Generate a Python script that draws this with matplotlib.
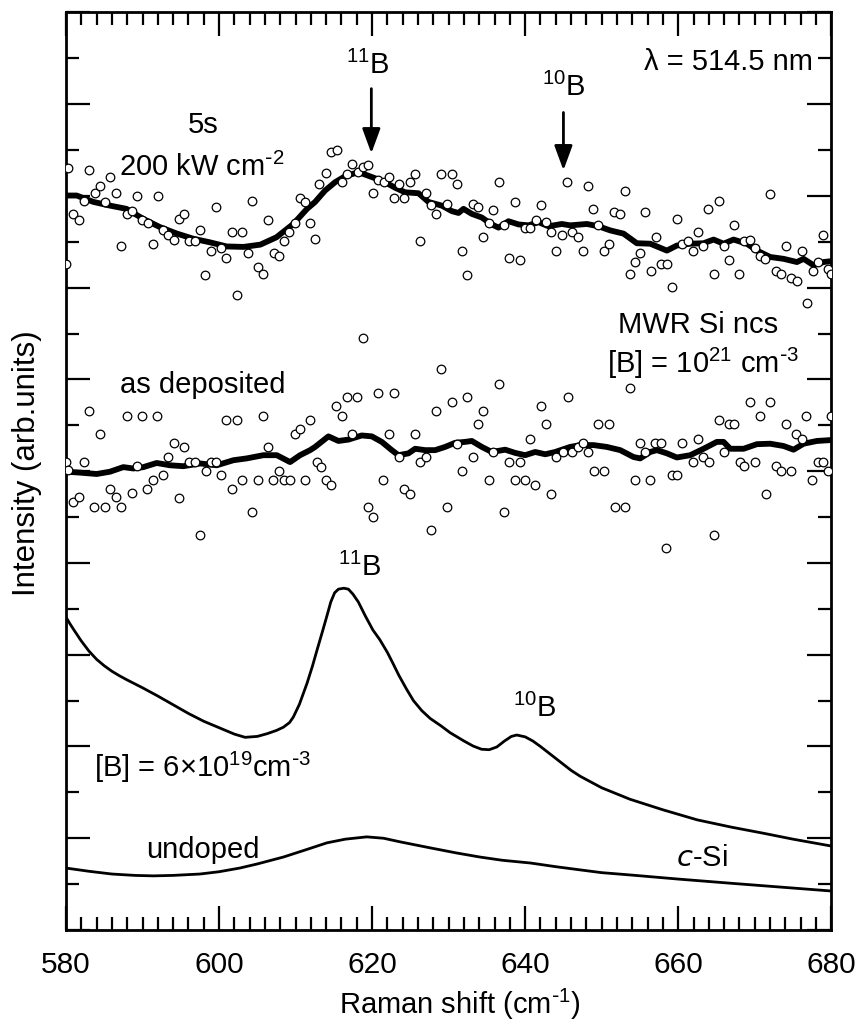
import numpy as np
import matplotlib
matplotlib.use("Agg")
import matplotlib.pyplot as plt
from matplotlib.ticker import MultipleLocator, NullFormatter

plt.rcParams['font.family'] = ['Liberation Sans', 'DejaVu Sans']
plt.rcParams['mathtext.default'] = 'regular'

# annealed sample (5 s, 200 kW cm-2): raw points
top_x = [580.0, 580.3, 580.96, 581.7, 582.35, 583.05, 583.79, 584.44, 585.1, 585.75,
         586.54, 587.19, 587.93, 588.67, 589.24, 589.89, 590.68, 591.33, 591.98, 592.72,
         593.38, 594.12, 594.81, 595.47, 596.12, 596.86, 597.52, 598.17, 598.91, 599.56,
         600.22, 600.87, 601.66, 602.31, 602.96, 603.75, 604.36, 605.05, 605.71, 606.36,
         607.19, 607.89, 608.5, 609.19, 609.89, 610.59, 611.24, 611.9, 612.55, 613.0,
         613.99, 614.64, 615.38, 616.04, 616.69, 617.43, 618.13, 618.87, 619.52, 620.09,
         620.83, 621.57, 622.22, 622.88, 623.57, 624.23, 624.97, 625.62, 626.28, 627.02,
         627.67, 628.37, 629.02, 629.76, 630.42, 631.07, 631.72, 632.46, 633.12, 633.9,
         634.55, 635.21, 635.86, 636.6, 637.26, 637.95, 638.61, 639.35, 640.0, 640.65,
         641.4, 642.09, 642.75, 643.4, 644.05, 644.79, 645.45, 646.1, 646.84, 647.54,
         648.15, 648.84, 649.58, 650.24, 650.98, 651.63, 652.33, 652.98, 653.64, 654.38,
         655.03, 655.68, 656.42, 657.12, 657.78, 658.52, 659.17, 659.82, 660.52, 661.22,
         661.87, 662.57, 663.22, 663.88, 664.62, 665.27, 665.92, 666.62, 667.27, 667.97,
         668.63, 669.32, 669.98, 670.63, 671.37, 672.02, 672.72, 673.46, 674.12, 674.73,
         675.51, 676.16, 676.82, 677.56, 678.21, 678.86, 679.52, 680.0]
top_y = [14.51, 16.61, 15.61, 15.47, 15.90, 16.56, 16.06, 16.21, 15.87, 16.41,
         16.06, 14.91, 15.61, 15.67, 16.00, 15.47, 15.41, 14.96, 16.01, 15.26,
         15.14, 15.05, 15.50, 15.61, 15.01, 15.01, 15.26, 14.27, 14.81, 15.76,
         14.86, 14.65, 15.21, 13.85, 15.21, 14.76, 15.90, 14.46, 14.30, 15.47,
         14.76, 14.70, 15.01, 15.21, 15.41, 15.96, 15.87, 15.41, 15.06, 16.27,
         16.51, 16.96, 17.01, 16.30, 16.47, 16.70, 16.52, 16.63, 16.67, 16.06,
         16.35, 16.30, 16.41, 15.96, 16.27, 15.96, 16.30, 16.47, 15.02, 16.06,
         15.81, 15.61, 16.47, 15.82, 16.47, 16.27, 14.81, 14.27, 15.82, 15.76,
         15.10, 15.41, 15.70, 16.30, 15.36, 14.65, 15.87, 14.61, 15.31, 15.31,
         15.47, 15.81, 15.43, 15.21, 14.81, 15.15, 16.30, 15.21, 15.10, 14.81,
         16.21, 15.71, 15.36, 14.81, 14.96, 15.66, 15.61, 16.11, 14.31, 14.56,
         14.76, 15.66, 14.36, 15.10, 14.51, 14.51, 14.01, 15.50, 14.96, 15.02,
         14.81, 15.21, 14.90, 15.71, 14.31, 15.90, 14.90, 14.61, 15.36, 14.31,
         15.02, 15.05, 14.87, 14.70, 14.63, 16.05, 14.36, 14.31, 14.90, 14.22,
         14.15, 14.81, 13.67, 14.36, 14.56, 15.15, 14.41, 14.31]

# annealed sample: smoothed curve
top_sm_x = [580.0, 581.4, 583.6, 585.75, 587.9, 590.1, 592.3, 594.5, 596.6, 598.8,
            601.0, 603.2, 605.4, 607.5, 609.7, 611.5, 612.55, 613.86, 615.16, 616.47,
            618.22, 618.87, 620.18, 621.7, 623.01, 624.31, 626.06, 627.37, 629.11, 630.42,
            631.29, 631.94, 633.03, 634.34, 635.64, 636.52, 637.82, 639.13, 640.44, 641.74,
            643.05, 644.79, 645.88, 648.06, 649.58, 651.11, 652.85, 654.59, 656.34, 658.52,
            659.82, 661.57, 663.31, 664.62, 665.92, 667.23, 668.97, 670.28, 672.02, 673.77,
            675.51, 676.38, 677.69, 678.99, 680.0]
top_sm_y = [16.01, 16.01, 15.87, 15.79, 15.72, 15.50, 15.32, 15.18, 15.07, 14.99,
            14.90, 14.89, 14.94, 15.10, 15.39, 15.72, 15.87, 16.12, 16.30, 16.43,
            16.52, 16.48, 16.40, 16.30, 16.18, 16.08, 16.06, 15.87, 15.79, 15.67,
            15.63, 15.72, 15.61, 15.53, 15.38, 15.31, 15.45, 15.38, 15.36, 15.43,
            15.34, 15.39, 15.36, 15.39, 15.34, 15.25, 15.18, 14.97, 14.96, 14.81,
            14.92, 14.96, 14.97, 15.05, 14.96, 15.05, 14.96, 14.81, 14.67, 14.63,
            14.56, 14.63, 14.49, 14.56, 14.58]

# as deposited: raw points
mid_x = [580.0, 580.31, 580.96, 581.7, 582.35, 583.05, 583.7, 584.44, 585.1, 585.75,
         586.54, 587.19, 587.93, 588.58, 589.24, 589.89, 590.63, 591.33, 591.94, 592.64,
         593.38, 594.12, 594.77, 595.47, 596.12, 596.86, 597.52, 598.26, 598.91, 599.61,
         600.26, 600.92, 601.66, 602.31, 602.96, 604.36, 605.05, 605.71, 606.45, 607.1,
         607.84, 608.54, 609.28, 609.93, 610.59, 611.24, 611.9, 612.77, 613.33, 613.99,
         614.64, 615.3, 616.04, 616.69, 617.43, 618.08, 618.78, 619.43, 620.09, 620.83,
         621.48, 622.22, 622.88, 623.57, 624.23, 624.97, 625.62, 626.28, 627.02, 627.67,
         628.37, 629.02, 629.76, 630.42, 631.07, 631.72, 632.46, 633.12, 633.81, 634.55,
         635.21, 635.86, 636.6, 637.26, 637.95, 638.61, 639.35, 640.0, 640.65, 641.31,
         642.09, 642.75, 643.4, 644.05, 644.88, 645.54, 646.1, 646.84, 647.62, 648.19,
         648.93, 649.58, 650.24, 650.89, 651.68, 652.98, 653.64, 654.38, 655.03, 655.68,
         656.34, 656.99, 657.73, 658.43, 659.17, 659.82, 660.48, 661.87, 662.52, 663.22,
         663.96, 664.62, 665.27, 665.92, 666.58, 667.32, 668.02, 668.63, 669.32, 669.98,
         670.72, 671.46, 672.02, 672.81, 673.46, 674.12, 674.77, 675.42, 676.16, 676.73,
         677.47, 678.21, 678.86, 679.56, 679.95]
mid_y = [10.20, 10.02, 9.32, 9.43, 10.20, 11.32, 9.21, 10.81, 9.21, 9.61,
         9.43, 9.21, 11.21, 9.53, 10.12, 11.21, 9.61, 9.82, 11.21, 9.91,
         10.31, 10.62, 9.42, 10.52, 10.20, 10.20, 8.61, 10.01, 10.20, 10.20,
         9.91, 11.11, 9.61, 11.11, 9.82, 9.11, 9.82, 11.21, 10.52, 9.82,
         10.01, 9.82, 9.82, 10.81, 10.91, 9.82, 11.11, 10.20, 10.10, 9.82,
         9.71, 11.42, 11.21, 11.61, 10.81, 11.61, 12.91, 9.22, 9.01, 11.71,
         9.82, 10.81, 11.71, 10.31, 9.61, 9.51, 10.81, 10.20, 10.31, 8.72,
         11.32, 12.22, 9.21, 11.51, 10.60, 10.01, 11.61, 10.31, 11.02, 11.32,
         9.82, 10.41, 11.91, 9.11, 10.20, 9.82, 10.20, 9.82, 10.71, 9.71,
         11.42, 11.02, 9.51, 10.31, 10.41, 11.61, 10.41, 10.52, 10.62, 10.41,
         10.01, 11.02, 10.01, 11.02, 9.21, 9.21, 11.82, 9.82, 10.62, 10.41,
         9.82, 10.62, 10.62, 8.32, 9.91, 9.91, 10.62, 10.20, 10.71, 10.31,
         10.20, 8.61, 11.11, 10.41, 11.02, 11.02, 10.20, 10.12, 11.51, 10.20,
         11.21, 9.51, 11.51, 10.12, 10.01, 11.02, 10.01, 10.81, 10.71, 11.21,
         9.82, 10.20, 10.20, 10.01, 11.21]

# as deposited: smoothed curve
mid_sm_x = [580.0, 581.83, 584.01, 585.75, 587.49, 588.8, 590.11, 591.85, 593.59, 595.34,
            597.52, 599.7, 601.87, 603.62, 605.8, 607.54, 609.28, 610.59, 611.9, 612.55,
            614.29, 615.6, 616.91, 618.65, 619.96, 621.26, 622.57, 623.44, 624.75, 625.62,
            626.93, 628.24, 629.54, 630.85, 632.16, 633.03, 634.34, 635.64, 637.39, 638.69,
            640.0, 641.31, 642.62, 643.92, 645.88, 647.19, 648.93, 650.67, 652.42, 654.16,
            655.03, 656.34, 657.21, 658.52, 659.82, 661.57, 663.31, 665.05, 665.92, 666.8,
            668.54, 670.28, 672.02, 673.77, 675.07, 676.38, 678.12, 680.0]
mid_sm_y = [9.99, 9.97, 9.94, 9.99, 10.09, 10.06, 10.09, 10.18, 10.13, 10.11,
            10.17, 10.13, 10.24, 10.28, 10.35, 10.35, 10.20, 10.35, 10.46, 10.53,
            10.76, 10.66, 10.69, 10.78, 10.76, 10.64, 10.46, 10.35, 10.39, 10.49,
            10.46, 10.46, 10.53, 10.62, 10.64, 10.66, 10.53, 10.42, 10.47, 10.40,
            10.35, 10.42, 10.37, 10.42, 10.53, 10.57, 10.57, 10.53, 10.46, 10.31,
            10.28, 10.42, 10.46, 10.39, 10.30, 10.35, 10.49, 10.64, 10.64, 10.49,
            10.49, 10.59, 10.60, 10.55, 10.47, 10.60, 10.66, 10.68]

# c-Si, [B] = 6x10^19 cm^-3
dop_x = [580.0, 580.5, 581.0, 582.0, 583.0, 584.0, 585.0, 586.0, 587.0, 588.0,
         590.0, 592.0, 594.0, 596.0, 598.0, 600.0, 602.0, 603.4, 605.0, 606.3,
         607.5, 608.4, 609.2, 609.7, 610.5, 611.5, 612.2, 612.8, 613.5, 614.1,
         614.6, 615.1, 615.6, 616.3, 616.9, 617.5, 618.2, 619.1, 620.1, 621.0,
         622.0, 622.7, 623.5, 624.5, 625.4, 626.5, 627.6, 629.0, 630.2, 632.0,
         633.2, 634.3, 635.3, 636.3, 637.3, 638.2, 638.9, 640.0, 641.0, 642.0,
         643.0, 644.0, 645.0, 646.0, 647.2, 650.0, 653.7, 658.0, 662.5, 667.0,
         671.1, 675.0, 680.0]
dop_y = [6.82, 6.68, 6.55, 6.30, 6.08, 5.90, 5.76, 5.64, 5.54, 5.45,
         5.28, 5.10, 4.91, 4.72, 4.55, 4.41, 4.27, 4.20, 4.22, 4.28,
         4.35, 4.42, 4.52, 4.64, 4.92, 5.38, 5.75, 6.10, 6.50, 6.85,
         7.15, 7.35, 7.43, 7.45, 7.43, 7.32, 7.15, 6.85, 6.54, 6.33,
         6.05, 5.82, 5.55, 5.25, 5.00, 4.78, 4.61, 4.45, 4.30, 4.12,
         4.01, 3.94, 3.93, 3.99, 4.12, 4.22, 4.25, 4.21, 4.12, 4.00,
         3.87, 3.74, 3.61, 3.48, 3.35, 3.10, 2.85, 2.62, 2.40, 2.24,
         2.11, 1.98, 1.83]

# c-Si, undoped
und_x = [580.0, 583.0, 586.0, 589.0, 591.4, 594.0, 597.5, 600.0, 602.7, 605.0,
         608.4, 611.0, 614.1, 616.5, 619.3, 621.5, 623.7, 625.5, 627.6, 631.0,
         634.1, 637.0, 640.7, 644.0, 647.2, 650.0, 653.7, 660.0, 666.8, 673.0, 680.0]
und_y = [1.35, 1.28, 1.22, 1.19, 1.18, 1.19, 1.22, 1.27, 1.35, 1.44,
         1.59, 1.73, 1.90, 1.98, 2.03, 2.00, 1.92, 1.86, 1.79, 1.68,
         1.59, 1.52, 1.46, 1.38, 1.31, 1.25, 1.20, 1.11, 1.02, 0.94, 0.85]

fig = plt.figure(figsize=(8.57, 10.24), dpi=100)
ax = fig.add_axes([0.077, 0.0918, 0.893, 0.896])

ax.plot(top_sm_x, top_sm_y, color='k', lw=4.2, zorder=2, solid_joinstyle='round')
ax.plot(top_x, top_y, 'o', ms=6.2, mfc='white', mec='k', mew=0.9, zorder=3)
ax.plot(mid_sm_x, mid_sm_y, color='k', lw=4.2, zorder=2, solid_joinstyle='round')
ax.plot(mid_x, mid_y, 'o', ms=6.2, mfc='white', mec='k', mew=0.9, zorder=3)
ax.plot(dop_x, dop_y, color='k', lw=2, solid_joinstyle='round')
ax.plot(und_x, und_y, color='k', lw=2, solid_joinstyle='round')

ax.set_xlim(580, 680)
ax.set_ylim(0, 20)
ax.xaxis.set_major_locator(MultipleLocator(20))
ax.xaxis.set_minor_locator(MultipleLocator(2))
ax.yaxis.set_major_locator(MultipleLocator(2))
ax.yaxis.set_minor_locator(MultipleLocator(1))
ax.yaxis.set_major_formatter(NullFormatter())
ax.tick_params(which='both', direction='in', top=True, right=True, width=1.6)
ax.tick_params(which='major', length=17, labelsize=21.5, pad=15)
ax.tick_params(which='minor', length=9.5)
for s in ax.spines.values():
    s.set_linewidth(2)

ax.set_xlabel('Raman shift (cm$^{\\text{-}1}$)', fontsize=21)
ax.xaxis.set_label_coords(0.515, -0.062)
ax.set_ylabel('Intensity (arb.units)', fontsize=22.5)
ax.yaxis.set_label_coords(-0.031, 0.509)

fs = 21
ax.text(677.6, 18.91, 'λ = 514.5 nm', fontsize=fs, ha='right', va='center')
ax.text(619.5, 18.85, '$^{11}$B', fontsize=fs, ha='center', va='center')
ax.text(645.0, 18.36, '$^{10}$B', fontsize=fs, ha='center', va='center')
arr = dict(arrowstyle='-|>,head_length=0.6,head_width=0.22', lw=2, color='k',
           mutation_scale=25, shrinkA=0, shrinkB=0)
ax.annotate('', xy=(619.9, 16.93), xytext=(619.9, 18.34), arrowprops=arr)
ax.annotate('', xy=(645.0, 16.56), xytext=(645.0, 17.82), arrowprops=arr)
ax.text(597.9, 17.54, '5s', fontsize=fs, ha='center', va='center')
ax.text(597.8, 16.62, '200 kW cm$^{\\text{-}2}$', fontsize=fs, ha='center', va='center')
ax.text(662.6, 13.18, 'MWR Si ncs', fontsize=fs, ha='center', va='center')
ax.text(663.3, 12.35, '[B] = 10$^{21}$ cm$^{\\text{-}3}$', fontsize=fs, ha='center', va='center')
ax.text(597.9, 11.87, 'as deposited', fontsize=fs, ha='center', va='center')
ax.text(618.4, 7.91, '$^{11}$B', fontsize=fs, ha='center', va='center')
ax.text(641.2, 4.84, '$^{10}$B', fontsize=fs, ha='center', va='center')
ax.text(597.9, 3.55, '[B] = 6×10$^{19}$cm$^{\\text{-}3}$', fontsize=fs, ha='center', va='center')
ax.text(597.9, 1.74, 'undoped', fontsize=fs, ha='center', va='center')
ax.text(663.1, 1.57, '$\\it{c}$-Si', fontsize=fs, ha='center', va='center')

fig.savefig('out.png', dpi=100)
